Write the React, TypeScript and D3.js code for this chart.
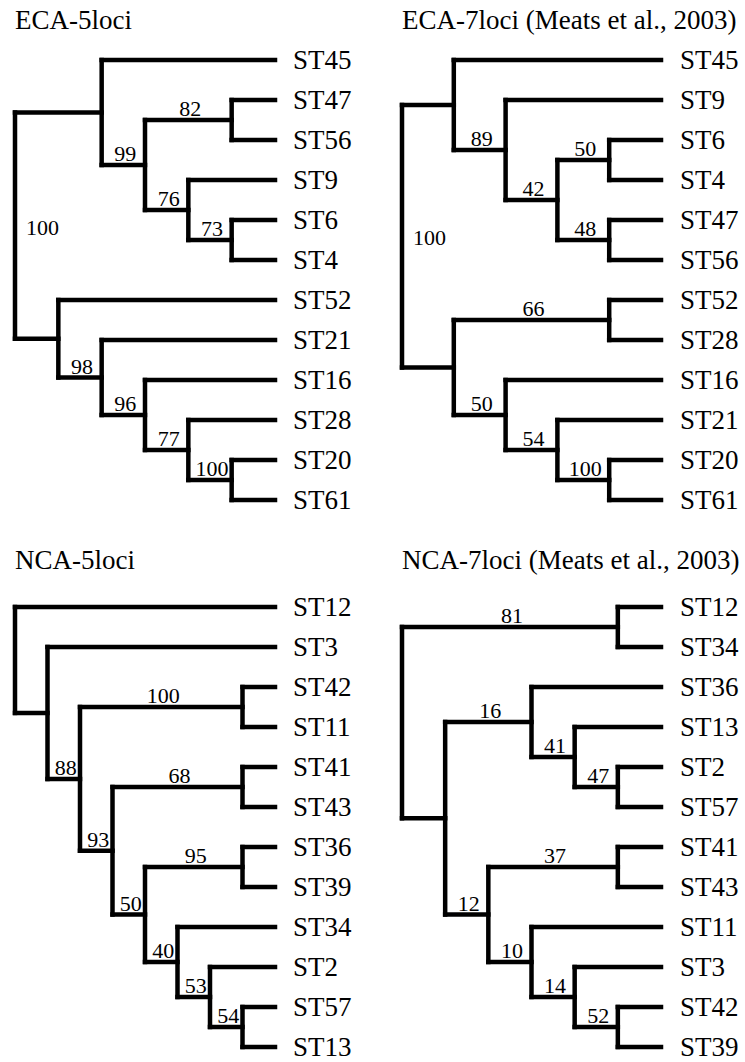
import * as d3 from 'd3';

// Newick strings, support values follow the closing bracket
const eca5 = '((ST45,((ST47,ST56)82,(ST9,(ST6,ST4)73)76)99),(ST52,(ST21,(ST16,(ST28,(ST20,ST61)100)77)96)98))100';
const eca7 = '((ST45,(ST9,((ST6,ST4)50,(ST47,ST56)48)42)89),((ST52,ST28)66,(ST16,(ST21,(ST20,ST61)100)54)50))100';
const nca5 = '(ST12,(ST3,((ST42,ST11)100,((ST41,ST43)68,((ST36,ST39)95,(ST34,(ST2,(ST57,ST13)54)53)40)50)93)88))';
const nca7 = '((ST12,ST34)81,((ST36,(ST13,(ST2,ST57)47)41)16,((ST41,ST43)37,(ST11,(ST3,(ST42,ST39)52)14)10)12))';

const titles = ['ECA-5loci', 'ECA-7loci (Meats et al., 2003)', 'NCA-5loci', 'NCA-7loci (Meats et al., 2003)'];
const newicks = [eca5, eca7, nca5, nca7];

interface TreeNode {
  name: string;
  children?: TreeNode[];
}

function parseNewick(s: string): TreeNode {
  let i = 0;
  const readLabel = () => {
    let out = '';
    while (i < s.length && !'(),'.includes(s[i])) out += s[i++];
    return out;
  };
  const node = (): TreeNode => {
    if (s[i] === '(') {
      i++;
      const children: TreeNode[] = [node()];
      while (s[i] === ',') {
        i++;
        children.push(node());
      }
      i++; // ')'
      return { name: readLabel(), children };
    }
    return { name: readLabel() };
  };
  return node();
}

const W = 745;
const H = 1062;
const step = 40;

const panels = [
  { rootX: 15, leafX: 275, labelX: 293, top: 60, titleX: 15, titleY: 29 },
  { rootX: 402, leafX: 661, labelX: 680, top: 60, titleX: 402, titleY: 29 },
  { rootX: 15, leafX: 275, labelX: 293, top: 607, titleX: 15, titleY: 569 },
  { rootX: 402, leafX: 661, labelX: 680, top: 607, titleX: 402, titleY: 569 },
];

function Tree({ newick, title, p }: { newick: string; title: string; p: typeof panels[0] }) {
  const root = d3.hierarchy(parseNewick(newick));
  const nLeaves = root.leaves().length;
  // cluster layout: leaves aligned, internal nodes placed by height
  const layout = d3.cluster<TreeNode>()
    .separation(() => 1)
    .size([nLeaves * step, p.leafX - p.rootX]);
  layout(root);

  const px = (d: d3.HierarchyPointNode<TreeNode>) => p.rootX + d.y;
  const py = (d: d3.HierarchyPointNode<TreeNode>) => p.top - step / 2 + d.x;
  const nodes = root.descendants() as d3.HierarchyPointNode<TreeNode>[];

  return (
    <g>
      <text x={p.titleX} y={p.titleY} fontSize={27}>{title}</text>
      {nodes.filter(d => d.children).map((d, i) => {
        const kids = d.children!;
        return (
          <line key={'v' + i} x1={px(d)} x2={px(d)} y1={py(kids[0])} y2={py(kids[kids.length - 1])}
            stroke="#000" strokeWidth={4.5} strokeLinecap="square" />
        );
      })}
      {nodes.filter(d => d.parent).map((d, i) => (
        <line key={'h' + i} x1={px(d.parent!)} x2={px(d)} y1={py(d)} y2={py(d)}
          stroke="#000" strokeWidth={4.5} strokeLinecap="square" />
      ))}
      {root.leaves().map((d, i) => (
        <text key={'l' + i} x={p.labelX} y={py(d as any) + 9} fontSize={27}>{d.data.name}</text>
      ))}
      {nodes.filter(d => d.children && d.data.name).map((d, i) => d.parent ? (
        <text key={'b' + i} x={(px(d.parent) + px(d)) / 2 + 2} y={py(d) - 4}
          fontSize={22} textAnchor="middle">{d.data.name}</text>
      ) : (
        <text key={'b' + i} x={px(d) + 11} y={py(d) + 9} fontSize={22}>{d.data.name}</text>
      ))}
    </g>
  );
}

export default function App() {
  return (
    <svg width={W} height={H}
      style={{ position: 'absolute', left: 0, top: 0, background: '#fff', fontFamily: "'Liberation Serif', serif" }}>
      <rect width={W} height={H} fill="#fff" />
      {newicks.map((nw, i) => (
        <Tree key={i} newick={nw} title={titles[i]} p={panels[i]} />
      ))}
    </svg>
  );
}
